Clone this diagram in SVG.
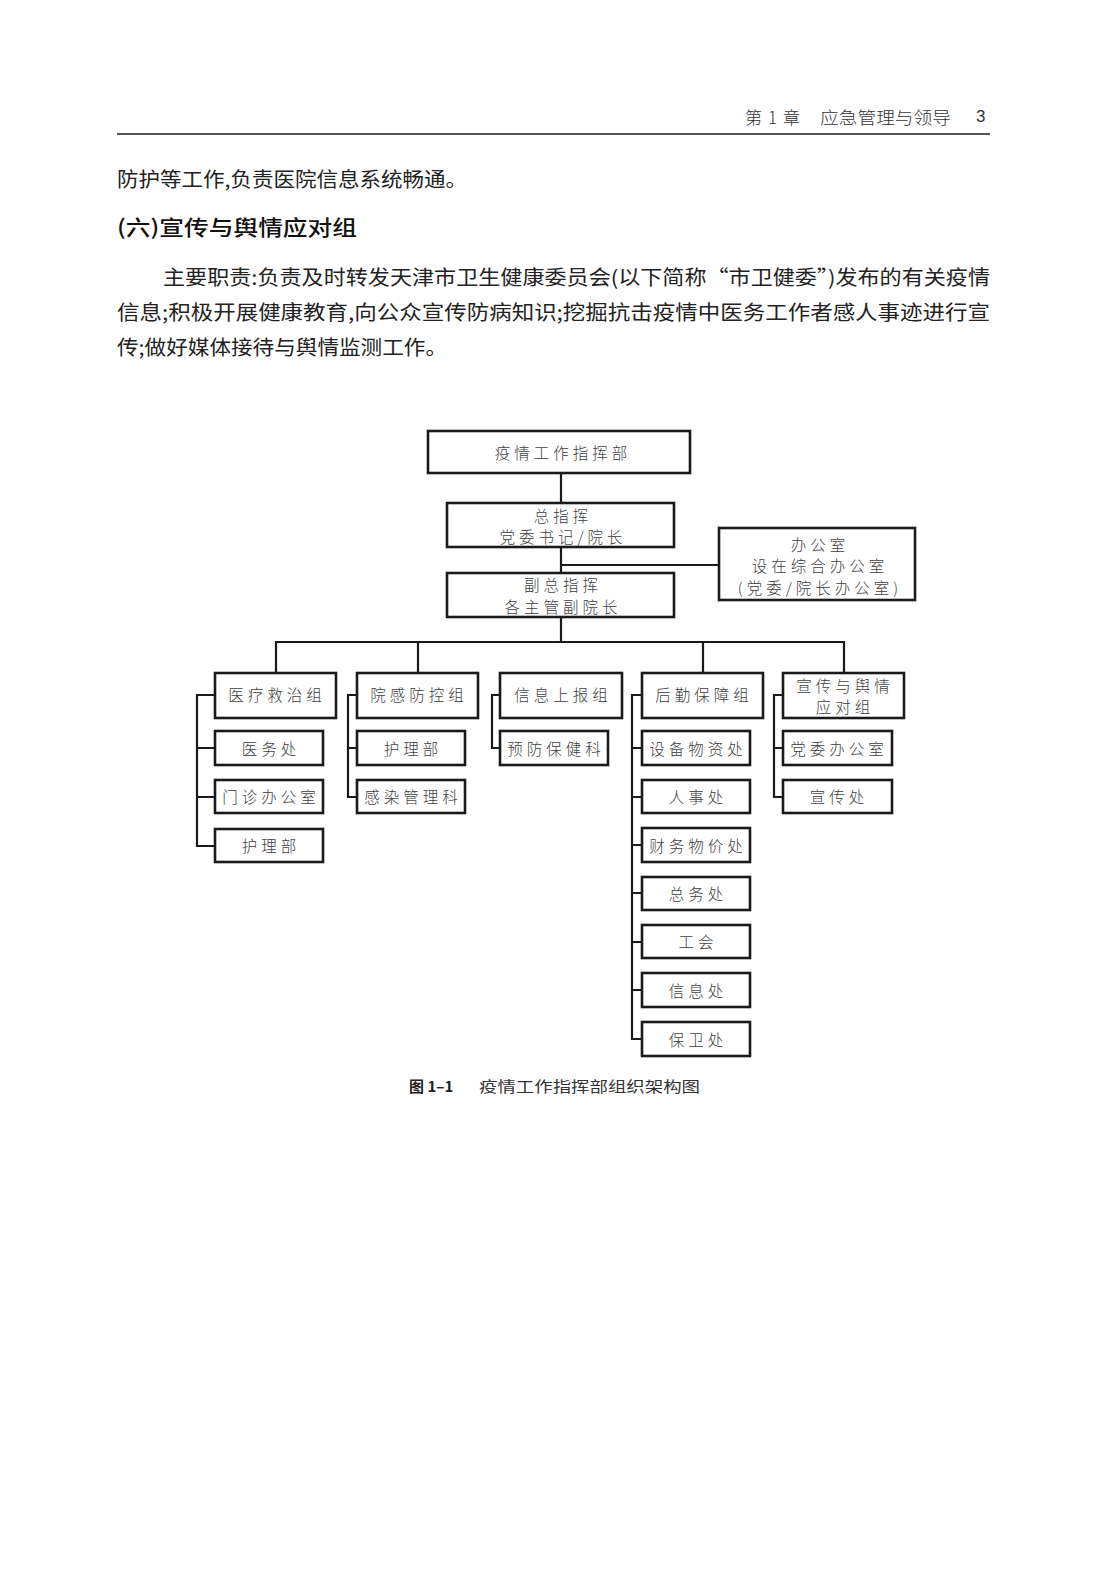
<svg xmlns="http://www.w3.org/2000/svg" width="1110" height="1571" viewBox="0 0 1110 1571">
<style>
.box{fill:#fff;stroke:#1a1a1a;stroke-width:2.6}
.ln{stroke:#1a1a1a;stroke-width:2.2;fill:none}
.t{font-family:"Noto Sans CJK SC","Noto Sans",sans-serif;font-size:15.5px;font-weight:300;fill:#404040;letter-spacing:4px;text-anchor:middle;dominant-baseline:central}
.body{font-family:"Noto Sans CJK SC","Noto Sans",sans-serif;font-size:20px;fill:#222;dominant-baseline:central}
.hd{font-family:"Noto Sans CJK SC","Liberation Sans",sans-serif;font-size:17px;font-weight:300;fill:#333;dominant-baseline:central}
</style>
<rect width="1110" height="1571" fill="#fff"/>
<!-- page header -->
<text class="hd" x="745" y="116" textLength="55" lengthAdjust="spacing">第 1 章</text>
<text class="hd" x="820" y="116" textLength="131" lengthAdjust="spacingAndGlyphs">应急管理与领导</text>
<text class="hd" x="976" y="116" style="font-family:'Liberation Sans',sans-serif">3</text>
<line x1="117" y1="134" x2="990" y2="134" stroke="#555" stroke-width="2"/>
<!-- body text -->
<text class="body" x="117" y="178" textLength="350" lengthAdjust="spacingAndGlyphs">防护等工作,负责医院信息系统畅通。</text>
<text class="body" x="117" y="226" textLength="240" lengthAdjust="spacingAndGlyphs" style="font-size:21px;font-weight:500;fill:#111">(六)宣传与舆情应对组</text>
<text class="body" x="163" y="276" textLength="827" lengthAdjust="spacingAndGlyphs">主要职责:负责及时转发天津市卫生健康委员会(以下简称“市卫健委”)发布的有关疫情</text>
<text class="body" x="117" y="311" textLength="873" lengthAdjust="spacingAndGlyphs">信息;积极开展健康教育,向公众宣传防病知识;挖掘抗击疫情中医务工作者感人事迹进行宣</text>
<text class="body" x="117" y="346" textLength="330" lengthAdjust="spacingAndGlyphs">传;做好媒体接待与舆情监测工作。</text>

<!-- connectors -->
<g id="connectors" class="ln">
<path d="M561,473 V503"/>
<path d="M561,547 V573"/>
<path d="M561,565 H719"/>
<path d="M561,617 V642"/>
<path d="M276,673 V642 H844 V673"/>
<path d="M418,642 V673"/>
<path d="M703,642 V673"/>
<path d="M215,695 H197 V846 H215 M197,748 H215 M197,797 H215"/>
<path d="M357,695 H348 V797 H357 M348,748 H357"/>
<path d="M500,695 H492 V748 H500"/>
<path d="M642,695 H632 V1039 H642 M632,748 H642 M632,797 H642 M632,845 H642 M632,893 H642 M632,942 H642 M632,990 H642"/>
<path d="M783,695 H774 V797 H783 M774,748 H783"/>
</g>

<g id="n_top"><rect class="box" x="428" y="431" width="262" height="42"/><text class="t" x="563" y="452">疫情工作指挥部</text></g>
<g id="n_chief"><rect class="box" x="447" y="503" width="227" height="44"/><text class="t" x="563" y="515">总指挥</text><text class="t" x="563" y="536">党委书记/院长</text></g>
<g id="n_office"><rect class="box" x="719" y="528" width="196" height="72"/><text class="t" x="820" y="544">办公室</text><text class="t" x="820" y="565">设在综合办公室</text><text class="t" x="820" y="587">(党委/院长办公室)</text></g>
<g id="n_deputy"><rect class="box" x="447" y="573" width="227" height="44"/><text class="t" x="563" y="584">副总指挥</text><text class="t" x="563" y="606">各主管副院长</text></g>

<g id="g1"><rect class="box" x="215" y="673" width="121" height="45"/><text class="t" x="277" y="694">医疗救治组</text></g>
<g id="g2"><rect class="box" x="357" y="673" width="121" height="45"/><text class="t" x="419" y="694">院感防控组</text></g>
<g id="g3"><rect class="box" x="500" y="673" width="122" height="45"/><text class="t" x="563" y="694">信息上报组</text></g>
<g id="g4"><rect class="box" x="642" y="673" width="121" height="45"/><text class="t" x="704" y="694">后勤保障组</text></g>
<g id="g5"><rect class="box" x="783" y="673" width="121" height="45"/><text class="t" x="845" y="685">宣传与舆情</text><text class="t" x="845" y="706">应对组</text></g>

<g id="s1a"><rect class="box" x="215" y="731" width="108" height="34"/><text class="t" x="271" y="748">医务处</text></g>
<g id="s1b"><rect class="box" x="215" y="780" width="108" height="33"/><text class="t" x="271" y="796">门诊办公室</text></g>
<g id="s1c"><rect class="box" x="215" y="829" width="108" height="33"/><text class="t" x="271" y="845">护理部</text></g>

<g id="s2a"><rect class="box" x="357" y="731" width="108" height="34"/><text class="t" x="413" y="748">护理部</text></g>
<g id="s2b"><rect class="box" x="357" y="780" width="108" height="33"/><text class="t" x="413" y="796">感染管理科</text></g>

<g id="s3a"><rect class="box" x="500" y="731" width="108" height="34"/><text class="t" x="556" y="748">预防保健科</text></g>

<g id="s4a"><rect class="box" x="642" y="731" width="108" height="34"/><text class="t" x="698" y="748">设备物资处</text></g>
<g id="s4b"><rect class="box" x="642" y="780" width="108" height="33"/><text class="t" x="698" y="796">人事处</text></g>
<g id="s4c"><rect class="box" x="642" y="828" width="108" height="34"/><text class="t" x="698" y="845">财务物价处</text></g>
<g id="s4d"><rect class="box" x="642" y="877" width="108" height="33"/><text class="t" x="698" y="893">总务处</text></g>
<g id="s4e"><rect class="box" x="642" y="925" width="108" height="33"/><text class="t" x="698" y="941">工会</text></g>
<g id="s4f"><rect class="box" x="642" y="973" width="108" height="34"/><text class="t" x="698" y="990">信息处</text></g>
<g id="s4g"><rect class="box" x="642" y="1022" width="108" height="34"/><text class="t" x="698" y="1039">保卫处</text></g>

<g id="s5a"><rect class="box" x="783" y="731" width="109" height="34"/><text class="t" x="839" y="748">党委办公室</text></g>
<g id="s5b"><rect class="box" x="783" y="780" width="109" height="33"/><text class="t" x="839" y="796">宣传处</text></g>

<!-- caption -->
<text x="409" y="1085" style="font-family:'Noto Sans CJK SC','Liberation Sans',sans-serif;font-size:15px;font-weight:700;fill:#222;dominant-baseline:central">图 1–1</text>
<text x="479" y="1085" textLength="221" lengthAdjust="spacingAndGlyphs" style="font-family:'Noto Sans CJK SC',sans-serif;font-size:15px;fill:#333;dominant-baseline:central">疫情工作指挥部组织架构图</text>
</svg>
